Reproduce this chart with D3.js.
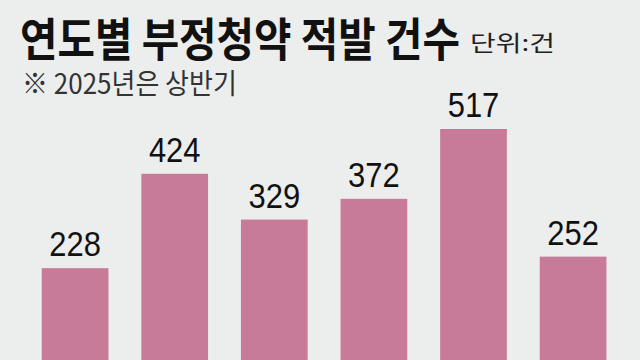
<!DOCTYPE html>
<html><head><meta charset="utf-8">
<script src="https://cdn.jsdelivr.net/npm/d3@7"></script>
<style>
html,body{margin:0;padding:0;background:#eceeed;}
svg{display:block;}
</style></head>
<body>
<svg id="chart" width="640" height="360"></svg>
<script>
const titleText = "연도별 부정청약 적발 건수";
const unitText = "단위:건";
const noteText = "※ 2025년은 상반기";
const years = ["2020", "2021", "2022", "2023", "2024", "2025"];
const counts = [228, 424, 329, 372, 517, 252];

const svg = d3.select("#chart");
const W = 640, H = 360;
svg.append("rect").attr("width", W).attr("height", H).attr("fill", "#eceeed");

const x = d3.scaleBand().domain(years).range([25.3, 622.9]).paddingInner(0.33).paddingOuter(0.165);
const y = d3.scaleLinear().domain([0, 517]).range([378, 129]);

svg.append("g").selectAll("rect").data(counts).join("rect")
  .attr("x", (d, i) => x(years[i]))
  .attr("y", d => y(d))
  .attr("width", x.bandwidth())
  .attr("height", d => y(0) - y(d))
  .attr("fill", "#c87b99");

svg.append("g").selectAll("text").data(counts).join("text")
  .attr("transform", (d, i) => `translate(${x(years[i]) + x.bandwidth() / 2},${y(d) - 12}) scale(0.86,1)`)
  .attr("text-anchor", "middle")
  .attr("font-family", "Liberation Sans, Arial, sans-serif")
  .attr("font-size", 36)
  .attr("fill", "#111")
  .text(d => d);

function fitText(txt, tx, ty, width) {
  const w = txt.node().getComputedTextLength();
  txt.attr("transform", `translate(${tx},${ty}) scale(${width / w},1)`);
}

const title = svg.append("text")
  .attr("font-family", "Noto Sans CJK KR")
  .attr("font-weight", 700)
  .attr("font-size", 46)
  .attr("fill", "#111")
  .text(titleText);
fitText(title, 20, 56, 440);

const unit = svg.append("text")
  .attr("font-family", "Noto Sans CJK KR")
  .attr("font-size", 22)
  .attr("fill", "#222")
  .text(unitText);
fitText(unit, 470, 51, 85);

const note = svg.append("text")
  .attr("font-family", "Noto Sans CJK KR")
  .attr("font-size", 28)
  .attr("fill", "#333")
  .text(noteText);
fitText(note, 22, 94, 215);
</script>
</body></html>
